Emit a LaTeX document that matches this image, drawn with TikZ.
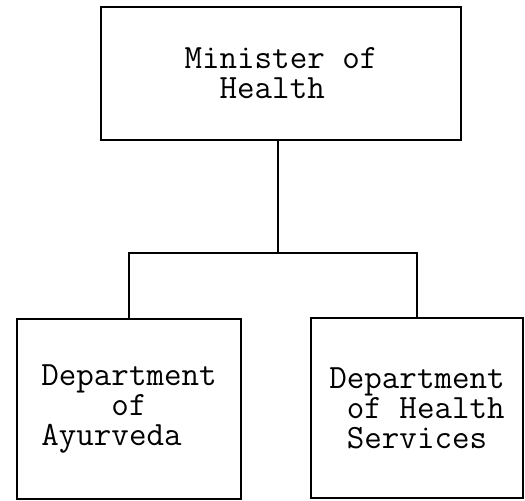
\documentclass[tikz,border=0pt]{standalone}
\usetikzlibrary{positioning,calc}
\tikzset{
  unit/.style  ={rectangle, draw=black, line width=1pt, fill=white,
                 align=left, font=\fontsize{17}{15}\selectfont\ttfamily,
                 inner sep=0pt},
  link/.style  ={line width=1pt, draw=black}
}

\begin{document}
\begin{tikzpicture}[x=0.5pt, y=-0.5pt]
  \useasboundingbox (0,0) rectangle (525,501);

  \node[unit,minimum width=180pt,minimum height=66.5pt] (min) at (281,73.5)
    {Minister of\\\hphantom{Mi}Health};
  \node[unit,minimum width=112pt,minimum height=90pt] (ayu) at (129,409)
    {Department\\\hphantom{Depa}of\\Ayurveda};
  \node[unit,minimum width=106pt,minimum height=90pt] (dhs) at (417,408)
    {Department\\\hphantom{D}of Health\\\hphantom{D}Services};

  \coordinate (bar) at (278,253);
  \draw[link] (min.south -| bar) -- (bar);
  \draw[link] (ayu.north) |- (bar) -| (dhs.north);
\end{tikzpicture}
\end{document}
